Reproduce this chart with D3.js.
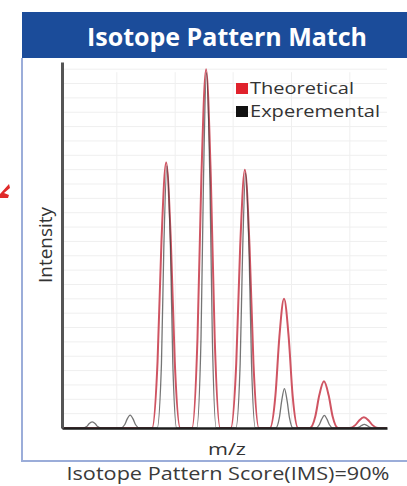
<!DOCTYPE html>
<html>
<head>
<meta charset="utf-8">
<script src="https://cdn.jsdelivr.net/npm/d3@7"></script>
<style>
  body { margin: 0; background: #fff; }
  svg { display: block; font-family: "Open Sans", "Noto Sans", sans-serif; }
</style>
</head>
<body>
<svg id="chart" width="407" height="486"></svg>
<script>
// Theoretical profile, [m/z, relative intensity]
const theoretical = [
  [1500.00, 0],
  [1502.30, 0], [1502.44, 18.5], [1502.54, 52], [1502.66, 74], [1502.78, 52], [1502.88, 18.5], [1503.02, 0],
  [1503.32, 0], [1503.46, 25], [1503.56, 70], [1503.68, 100], [1503.80, 70], [1503.90, 25], [1504.04, 0],
  [1504.31, 0], [1504.45, 18], [1504.55, 50.4], [1504.67, 72], [1504.79, 50.4], [1504.89, 18], [1505.03, 0],
  [1505.31, 0], [1505.45, 9], [1505.55, 25.2], [1505.67, 36], [1505.79, 25.2], [1505.89, 9], [1506.03, 0],
  [1506.33, 0], [1506.47, 3.3], [1506.57, 9.1], [1506.69, 13], [1506.81, 9.1], [1506.91, 3.3], [1507.05, 0],
  [1507.35, 0], [1507.49, 0.8], [1507.59, 2.1], [1507.71, 3], [1507.83, 2.1], [1507.93, 0.8], [1508.07, 0],
  [1508.30, 0]
];

// Experimental profile
const experimental = [
  [1500.00, 0],
  [1500.53, 0], [1500.63, 0.4], [1500.69, 1.2], [1500.77, 1.7], [1500.85, 1.2], [1500.91, 0.4], [1501.01, 0],
  [1501.50, 0], [1501.60, 0.9], [1501.66, 2.4], [1501.74, 3.6], [1501.82, 2.4], [1501.88, 0.9], [1501.98, 0],
  [1502.43, 0], [1502.54, 18], [1502.60, 50], [1502.68, 73], [1502.77, 50], [1502.83, 18], [1502.93, 0],
  [1503.44, 0], [1503.55, 25], [1503.61, 67], [1503.69, 99], [1503.78, 67], [1503.84, 25], [1503.94, 0],
  [1504.44, 0], [1504.55, 18], [1504.61, 48], [1504.69, 71], [1504.78, 48], [1504.84, 18], [1504.94, 0],
  [1505.46, 0], [1505.55, 2.8], [1505.61, 7.5], [1505.68, 11], [1505.75, 7.5], [1505.81, 2.8], [1505.90, 0],
  [1506.48, 0], [1506.57, 0.9], [1506.63, 2.4], [1506.70, 3.5], [1506.77, 2.4], [1506.83, 0.9], [1506.92, 0],
  [1507.50, 0], [1507.59, 0.25], [1507.65, 0.7], [1507.72, 1], [1507.79, 0.7], [1507.85, 0.25], [1507.94, 0],
  [1508.30, 0]
];

const gridX = [1501.40, 1502.89, 1504.37, 1505.86, 1507.35];
const gridY = d3.range(4, 101, 4);

const legendItems = [
  { name: "Theoretical", color: "#e0222c", width: 104 },
  { name: "Experemental", color: "#111111", width: 130 }
];

const titleText = "Isotope Pattern Match";
const xLabel = "m/z";
const yLabel = "Intensity";
const scoreText = "Isotope Pattern Score(IMS)=90%";

const svg = d3.select("#chart");
const W = 407;

const plot = { left: 62, right: 387, top: 62, bottom: 428 };

const x = d3.scaleLinear().domain([1500, 1508.3]).range([plot.left, plot.right]);
const y = d3.scaleLinear().domain([0, 102]).range([plot.bottom, plot.top]);

// stray red arrow tip at the left edge
svg.append("path")
  .attr("d", "M0,194 L9,184 L10,188 L4,193 L9,195 L8,198 L0,198 Z")
  .attr("fill", "#e02a2a");

// frame
svg.append("path")
  .attr("d", `M22,58 V461 H${W}`)
  .attr("fill", "none")
  .attr("stroke", "#9badd9")
  .attr("stroke-width", 2);

// title bar
svg.append("rect")
  .attr("x", 22).attr("y", 12)
  .attr("width", W - 22).attr("height", 46)
  .attr("fill", "#1b4c9a");

svg.append("text")
  .attr("x", 227).attr("y", 46)
  .attr("text-anchor", "middle")
  .attr("fill", "#fff")
  .attr("font-size", 25)
  .attr("font-weight", 700)
  .text(titleText);

// grid
svg.append("g")
  .selectAll("line")
  .data(gridY)
  .join("line")
  .attr("x1", plot.left).attr("x2", plot.right)
  .attr("y1", d => y(d)).attr("y2", d => y(d))
  .attr("stroke", "#efefef")
  .attr("stroke-width", 1);

svg.append("g")
  .selectAll("line")
  .data(gridX)
  .join("line")
  .attr("x1", d => x(d)).attr("x2", d => x(d))
  .attr("y1", y(100) + 3).attr("y2", plot.bottom)
  .attr("stroke", "#efefef")
  .attr("stroke-width", 1);

const line = d3.line()
  .x(d => x(d[0]))
  .y(d => y(d[1]))
  .curve(d3.curveMonotoneX);

svg.append("path")
  .datum(theoretical)
  .attr("d", line)
  .attr("fill", "none")
  .attr("stroke", "#cf5462")
  .attr("stroke-width", 2);

svg.append("path")
  .datum(experimental)
  .attr("d", line)
  .attr("fill", "none")
  .attr("stroke", "#3a3a3a")
  .attr("stroke-opacity", 0.7)
  .attr("stroke-width", 1.3);

// axes (no ticks)
svg.append("g")
  .attr("transform", `translate(0,${plot.bottom})`)
  .call(d3.axisBottom(x).ticks(0).tickSize(0))
  .call(g => g.select(".domain").attr("stroke", "#1e1e1e").attr("stroke-width", 2.5));

svg.append("g")
  .attr("transform", `translate(${plot.left},0)`)
  .call(d3.axisLeft(y).ticks(0).tickSize(0))
  .call(g => g.select(".domain").attr("stroke", "#555").attr("stroke-width", 3));

// legend
const legend = svg.append("g").attr("transform", "translate(236,83)");
legend.selectAll("rect")
  .data(legendItems)
  .join("rect")
  .attr("x", 0).attr("y", (d, i) => i * 23)
  .attr("width", 12).attr("height", 11)
  .attr("fill", d => d.color);
legend.selectAll("text")
  .data(legendItems)
  .join("text")
  .attr("x", 14).attr("y", (d, i) => i * 23 + 11)
  .attr("font-size", 17)
  .attr("fill", "#333")
  .attr("textLength", d => d.width)
  .attr("lengthAdjust", "spacingAndGlyphs")
  .text(d => d.name);

// axis labels
svg.append("text")
  .attr("transform", "translate(52,245) rotate(-90)")
  .attr("text-anchor", "middle")
  .attr("font-size", 19)
  .attr("fill", "#333")
  .attr("textLength", 76)
  .attr("lengthAdjust", "spacingAndGlyphs")
  .text(yLabel);

svg.append("text")
  .attr("x", 227).attr("y", 455)
  .attr("text-anchor", "middle")
  .attr("font-size", 17)
  .attr("fill", "#333")
  .attr("textLength", 38)
  .attr("lengthAdjust", "spacingAndGlyphs")
  .text(xLabel);

svg.append("text")
  .attr("x", 228).attr("y", 480)
  .attr("text-anchor", "middle")
  .attr("font-size", 18)
  .attr("fill", "#3a3a3a")
  .attr("textLength", 323)
  .attr("lengthAdjust", "spacingAndGlyphs")
  .text(scoreText);
</script>
</body>
</html>
